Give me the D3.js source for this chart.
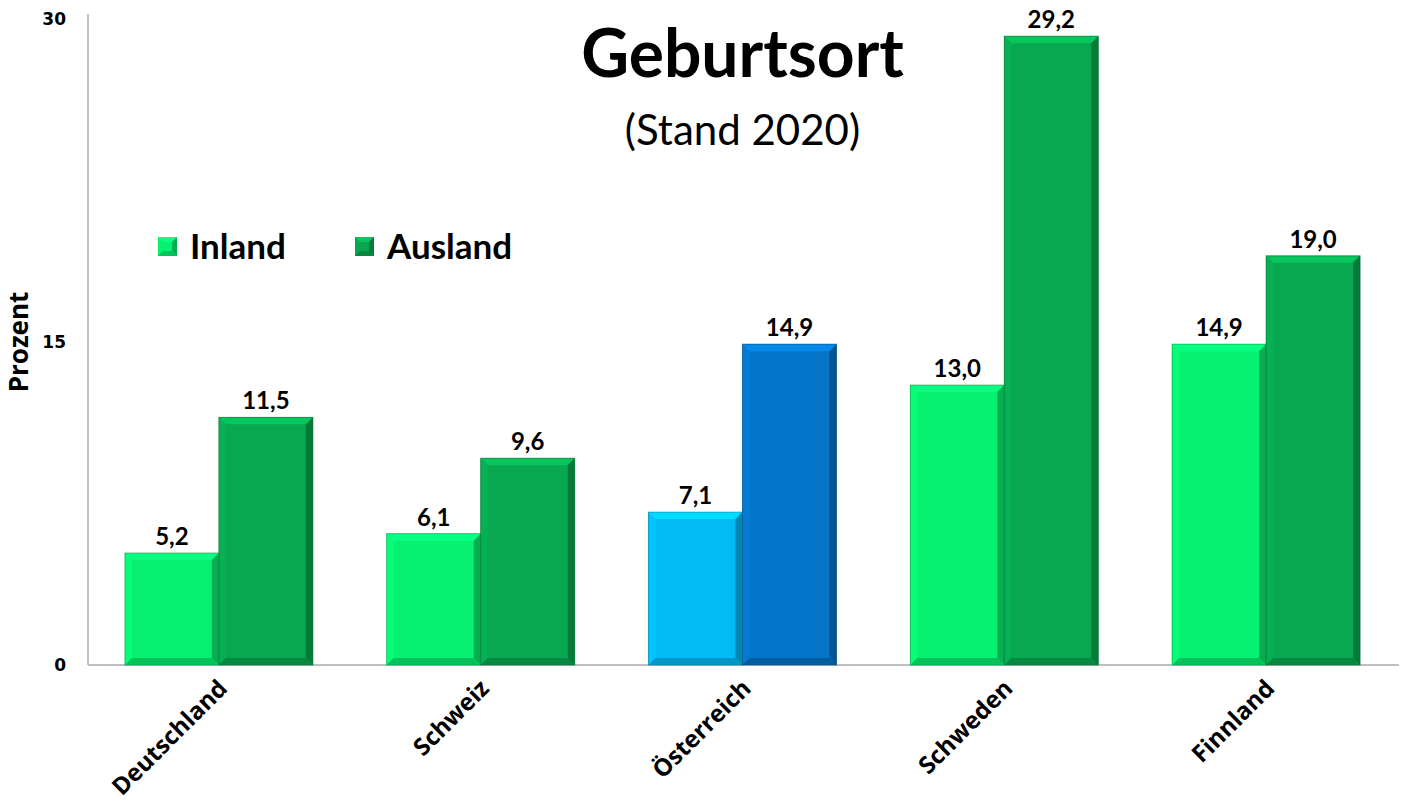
<!DOCTYPE html>
<html>
<head>
<meta charset="utf-8">
<script src="https://cdn.jsdelivr.net/npm/d3@7"></script>
<style>
  body { margin: 0; background: #fff; }
  svg { display: block; }
</style>
</head>
<body>
<div id="chart"></div>
<script>
const laender  = ["Deutschland", "Schweiz", "Österreich", "Schweden", "Finnland"];
const serien   = ["Inland", "Ausland"];
const inland   = [5.2, 6.1, 7.1, 13.0, 14.9];
const ausland  = [11.5, 9.6, 14.9, 29.2, 19.0];
const yTicks   = [0, 15, 30];

const fullW = 1403, fullH = 809;
const margin = { top: 19, left: 88, right: 6, bottom: 144 };
const width  = fullW - margin.left - margin.right;
const height = fullH - margin.top - margin.bottom;

const farben = {
  normal:  { Inland: "#08f070", Ausland: "#07a84f" },
  blau:    { Inland: "#02bbf5", Ausland: "#0475c8" }
};

const fmt = v => v.toFixed(1).replace(".", ",");

const svg = d3.select("#chart")
              .append("svg")
              .attr("width", fullW)
              .attr("height", fullH);

const g = svg.append("g")
             .attr("transform", `translate(${margin.left}, ${margin.top})`);

const x0 = d3.scaleBand()
             .domain(laender)
             .range([0, width])
             .paddingInner(0.282)
             .paddingOuter(0.141);

const x1 = d3.scaleBand()
             .domain(serien)
             .range([0, x0.bandwidth()]);

const y = d3.scaleLinear()
            .domain([0, 30])
            .range([height, 0]);

// Titel
svg.append("text")
   .attr("x", margin.left + width / 2)
   .attr("y", 77)
   .attr("text-anchor", "middle")
   .attr("font-family", "Lato, 'Open Sans', sans-serif")
   .attr("font-weight", "bold")
   .attr("font-size", "66px")
   .text("Geburtsort");

svg.append("text")
   .attr("x", margin.left + width / 2)
   .attr("y", 145)
   .attr("text-anchor", "middle")
   .attr("font-family", "Lato, 'Open Sans', sans-serif")
   .attr("font-size", "42px")
   .text("(Stand 2020)");

// Achsen
g.append("line")
 .attr("x1", 0).attr("x2", 0)
 .attr("y1", -5).attr("y2", height)
 .attr("stroke", "#bfbfbf")
 .attr("stroke-width", 2);

g.append("line")
 .attr("x1", 0).attr("x2", width + 2)
 .attr("y1", height).attr("y2", height)
 .attr("stroke", "#bfbfbf")
 .attr("stroke-width", 2);

g.selectAll(".ytick")
 .data(yTicks)
 .enter()
 .append("text")
 .attr("x", -22)
 .attr("y", d => y(d))
 .attr("dy", "0.38em")
 .attr("text-anchor", "end")
 .attr("font-family", "'DejaVu Sans', Verdana, sans-serif")
 .attr("font-weight", "bold")
 .attr("font-size", "17px")
 .text(d => d);

svg.append("text")
   .attr("transform", `translate(28, ${margin.top + y(15)}) rotate(-90)`)
   .attr("text-anchor", "middle")
   .attr("font-family", "'Open Sans', sans-serif")
   .attr("font-weight", "bold")
   .attr("font-size", "26px")
   .text("Prozent");

// Balken mit Fase
const bevel = 7;
const daten = [];
laender.forEach((l, i) => {
  const pal = l === "Österreich" ? farben.blau : farben.normal;
  daten.push({ land: l, serie: "Inland",  wert: inland[i],  farbe: pal.Inland });
  daten.push({ land: l, serie: "Ausland", wert: ausland[i], farbe: pal.Ausland });
});

const bars = g.selectAll(".bar")
              .data(daten)
              .enter()
              .append("g")
              .attr("transform", d => `translate(${x0(d.land) + x1(d.serie)}, ${y(d.wert)})`);

bars.each(function(d) {
  const w = x1.bandwidth();
  const h = height - y(d.wert);
  const b = Math.min(bevel, h / 2);
  const c = d3.color(d.farbe);
  const sel = d3.select(this);
  sel.append("rect")
     .attr("width", w).attr("height", h)
     .attr("fill", d.farbe);
  // oben hell
  sel.append("polygon")
     .attr("points", `0,0 ${w},0 ${w - b},${b} ${b},${b}`)
     .attr("fill", c.brighter(0.45));
  // links leicht hell
  sel.append("polygon")
     .attr("points", `0,0 ${b},${b} ${b},${h - b} 0,${h}`)
     .attr("fill", c.brighter(0.15));
  // rechts dunkel
  sel.append("polygon")
     .attr("points", `${w},0 ${w},${h} ${w - b},${h - b} ${w - b},${b}`)
     .attr("fill", c.darker(0.9));
  // unten dunkel
  sel.append("polygon")
     .attr("points", `0,${h} ${w},${h} ${w - b},${h - b} ${b},${h - b}`)
     .attr("fill", c.darker(0.6));
  sel.append("rect")
     .attr("width", w).attr("height", h)
     .attr("fill", "none")
     .attr("stroke", c.darker(1.2))
     .attr("stroke-opacity", 0.6)
     .attr("stroke-width", 1);
});

// Werte
g.selectAll(".wert")
 .data(daten)
 .enter()
 .append("text")
 .attr("x", d => x0(d.land) + x1(d.serie) + x1.bandwidth() / 2)
 .attr("y", d => y(d.wert) - 8)
 .attr("text-anchor", "middle")
 .attr("font-family", "Lato, 'Open Sans', sans-serif")
 .attr("font-weight", "bold")
 .attr("font-size", "24px")
 .text(d => fmt(d.wert));

// Kategorien
g.selectAll(".kat")
 .data(laender)
 .enter()
 .append("text")
 .attr("transform", d => `translate(${x0(d) + x0.bandwidth() / 2 - 2}, ${height + 13}) rotate(-45)`)
 .attr("text-anchor", "end")
 .attr("dy", "0.7em")
 .attr("font-family", "'Open Sans', sans-serif")
 .attr("font-weight", "bold")
 .attr("font-size", "24px")
 .text(d => d);

// Legende
const legende = svg.append("g")
                   .attr("transform", "translate(158, 237)");

const legX = [0, 197];
serien.forEach((s, i) => {
  const c = d3.color(farben.normal[s]);
  const lg = legende.append("g").attr("transform", `translate(${legX[i]}, 0)`);
  const q = 19, b = 5;
  lg.append("rect").attr("width", q).attr("height", q).attr("fill", c);
  lg.append("polygon").attr("points", `0,0 ${q},0 ${q - b},${b} ${b},${b}`).attr("fill", c.brighter(0.45));
  lg.append("polygon").attr("points", `${q},0 ${q},${q} ${q - b},${q - b} ${q - b},${b}`).attr("fill", c.darker(0.9));
  lg.append("polygon").attr("points", `0,${q} ${q},${q} ${q - b},${q - b} ${b},${q - b}`).attr("fill", c.darker(0.6));
  lg.append("text")
    .attr("x", 32)
    .attr("y", 22)
    .attr("font-family", "Lato, 'Open Sans', sans-serif")
    .attr("font-weight", "bold")
    .attr("font-size", "35px")
    .text(s);
});
</script>
</body>
</html>
